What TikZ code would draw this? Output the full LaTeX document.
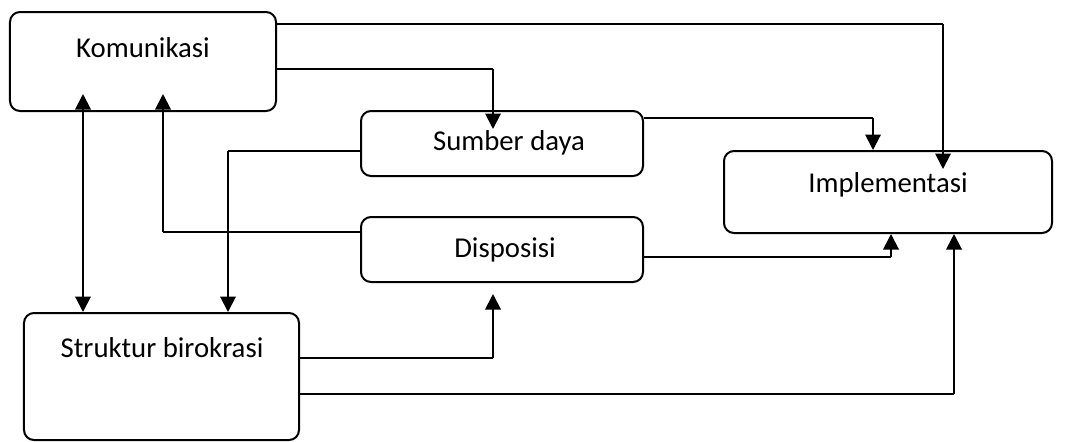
\documentclass[tikz,border=0pt]{standalone}
\usepackage{fontspec}
\setmainfont{Carlito}
\usetikzlibrary{arrows.meta}
\begin{document}
\begin{tikzpicture}[x=0.4pt,y=-0.4pt,
  box/.style={draw,line width=0.8pt,rounded corners=4pt,inner sep=0pt},
  lbl/.style={font=\fontsize{11.5}{13.5}\selectfont,inner sep=0pt},
  hseg/.style={line width=0.45pt},
  vseg/.style={line width=0.8pt,-{Triangle[width=6.2pt,length=6.2pt]}}]
\useasboundingbox (0,0) rectangle (1071,441);
% boxes
\node[box,minimum width=106.4pt,minimum height=39.6pt] (kom) at (143,61.5) {};
\node[box,minimum width=112.8pt,minimum height=26pt] (sum) at (502,143.5) {};
\node[box,minimum width=112.8pt,minimum height=26pt] (dis) at (502,249.5) {};
\node[box,minimum width=131.2pt,minimum height=32.8pt] (imp) at (888,192) {};
\node[box,minimum width=110pt,minimum height=50.8pt] (str) at (161.5,376.5) {};
% labels
\node[lbl] (tkom) at (143,48) {Komunikasi};
\node[lbl] (tsum) at (509,143) {Sumber daya};
\node[lbl] (tdis) at (505,250) {Disposisi};
\node[lbl] (timp) at (888,185) {Implementasi};
\node[lbl] (tstr) at (162,348) {Struktur birokrasi};
% corners
\coordinate (c1) at (943,24);
\coordinate (c2) at (493,69);
\coordinate (c3) at (873,118);
\coordinate (c4) at (228,151);
\coordinate (c5) at (163,232);
\coordinate (c7) at (493,358);
\coordinate (c8) at (954,394);
\coordinate (c9) at (891,257);
% connectors
\draw[hseg] (kom.east |- c1) -- (c1);
\draw[vseg,shorten >=-7.6pt] (c1) -- (c1 |- imp.north);
\draw[hseg] (kom.east |- c2) -- (c2);
\draw[vseg,shorten >=-7.6pt] (c2) -- (c2 |- sum.north);
\draw[hseg] (sum.east |- c3) -- (c3);
\draw[vseg] (c3) -- (c3 |- imp.north);
\draw[hseg] (sum.west |- c4) -- (c4);
\draw[vseg] (c4) -- (c4 |- str.north);
\draw[hseg] (dis.west |- c5) -- (c5);
\draw[vseg,shorten >=-7.2pt] (c5) -- (c5 |- kom.south);
\draw[line width=0.8pt,{Triangle[width=6.2pt,length=6.2pt]}-{Triangle[width=6.2pt,length=6.2pt]},shorten <=-7.2pt] (kom.south -| 83,0) -- (str.north -| 83,0);
\draw[hseg] (str.east |- c7) -- (c7);
\draw[vseg,shorten >=4.4pt] (c7) -- (c7 |- dis.south);
\draw[hseg] (str.east |- c8) -- (c8);
\draw[vseg] (c8) -- (c8 |- imp.south);
\draw[hseg] (dis.east |- c9) -- (c9);
\draw[vseg] (c9) -- (c9 |- imp.south);
\end{tikzpicture}
\end{document}
